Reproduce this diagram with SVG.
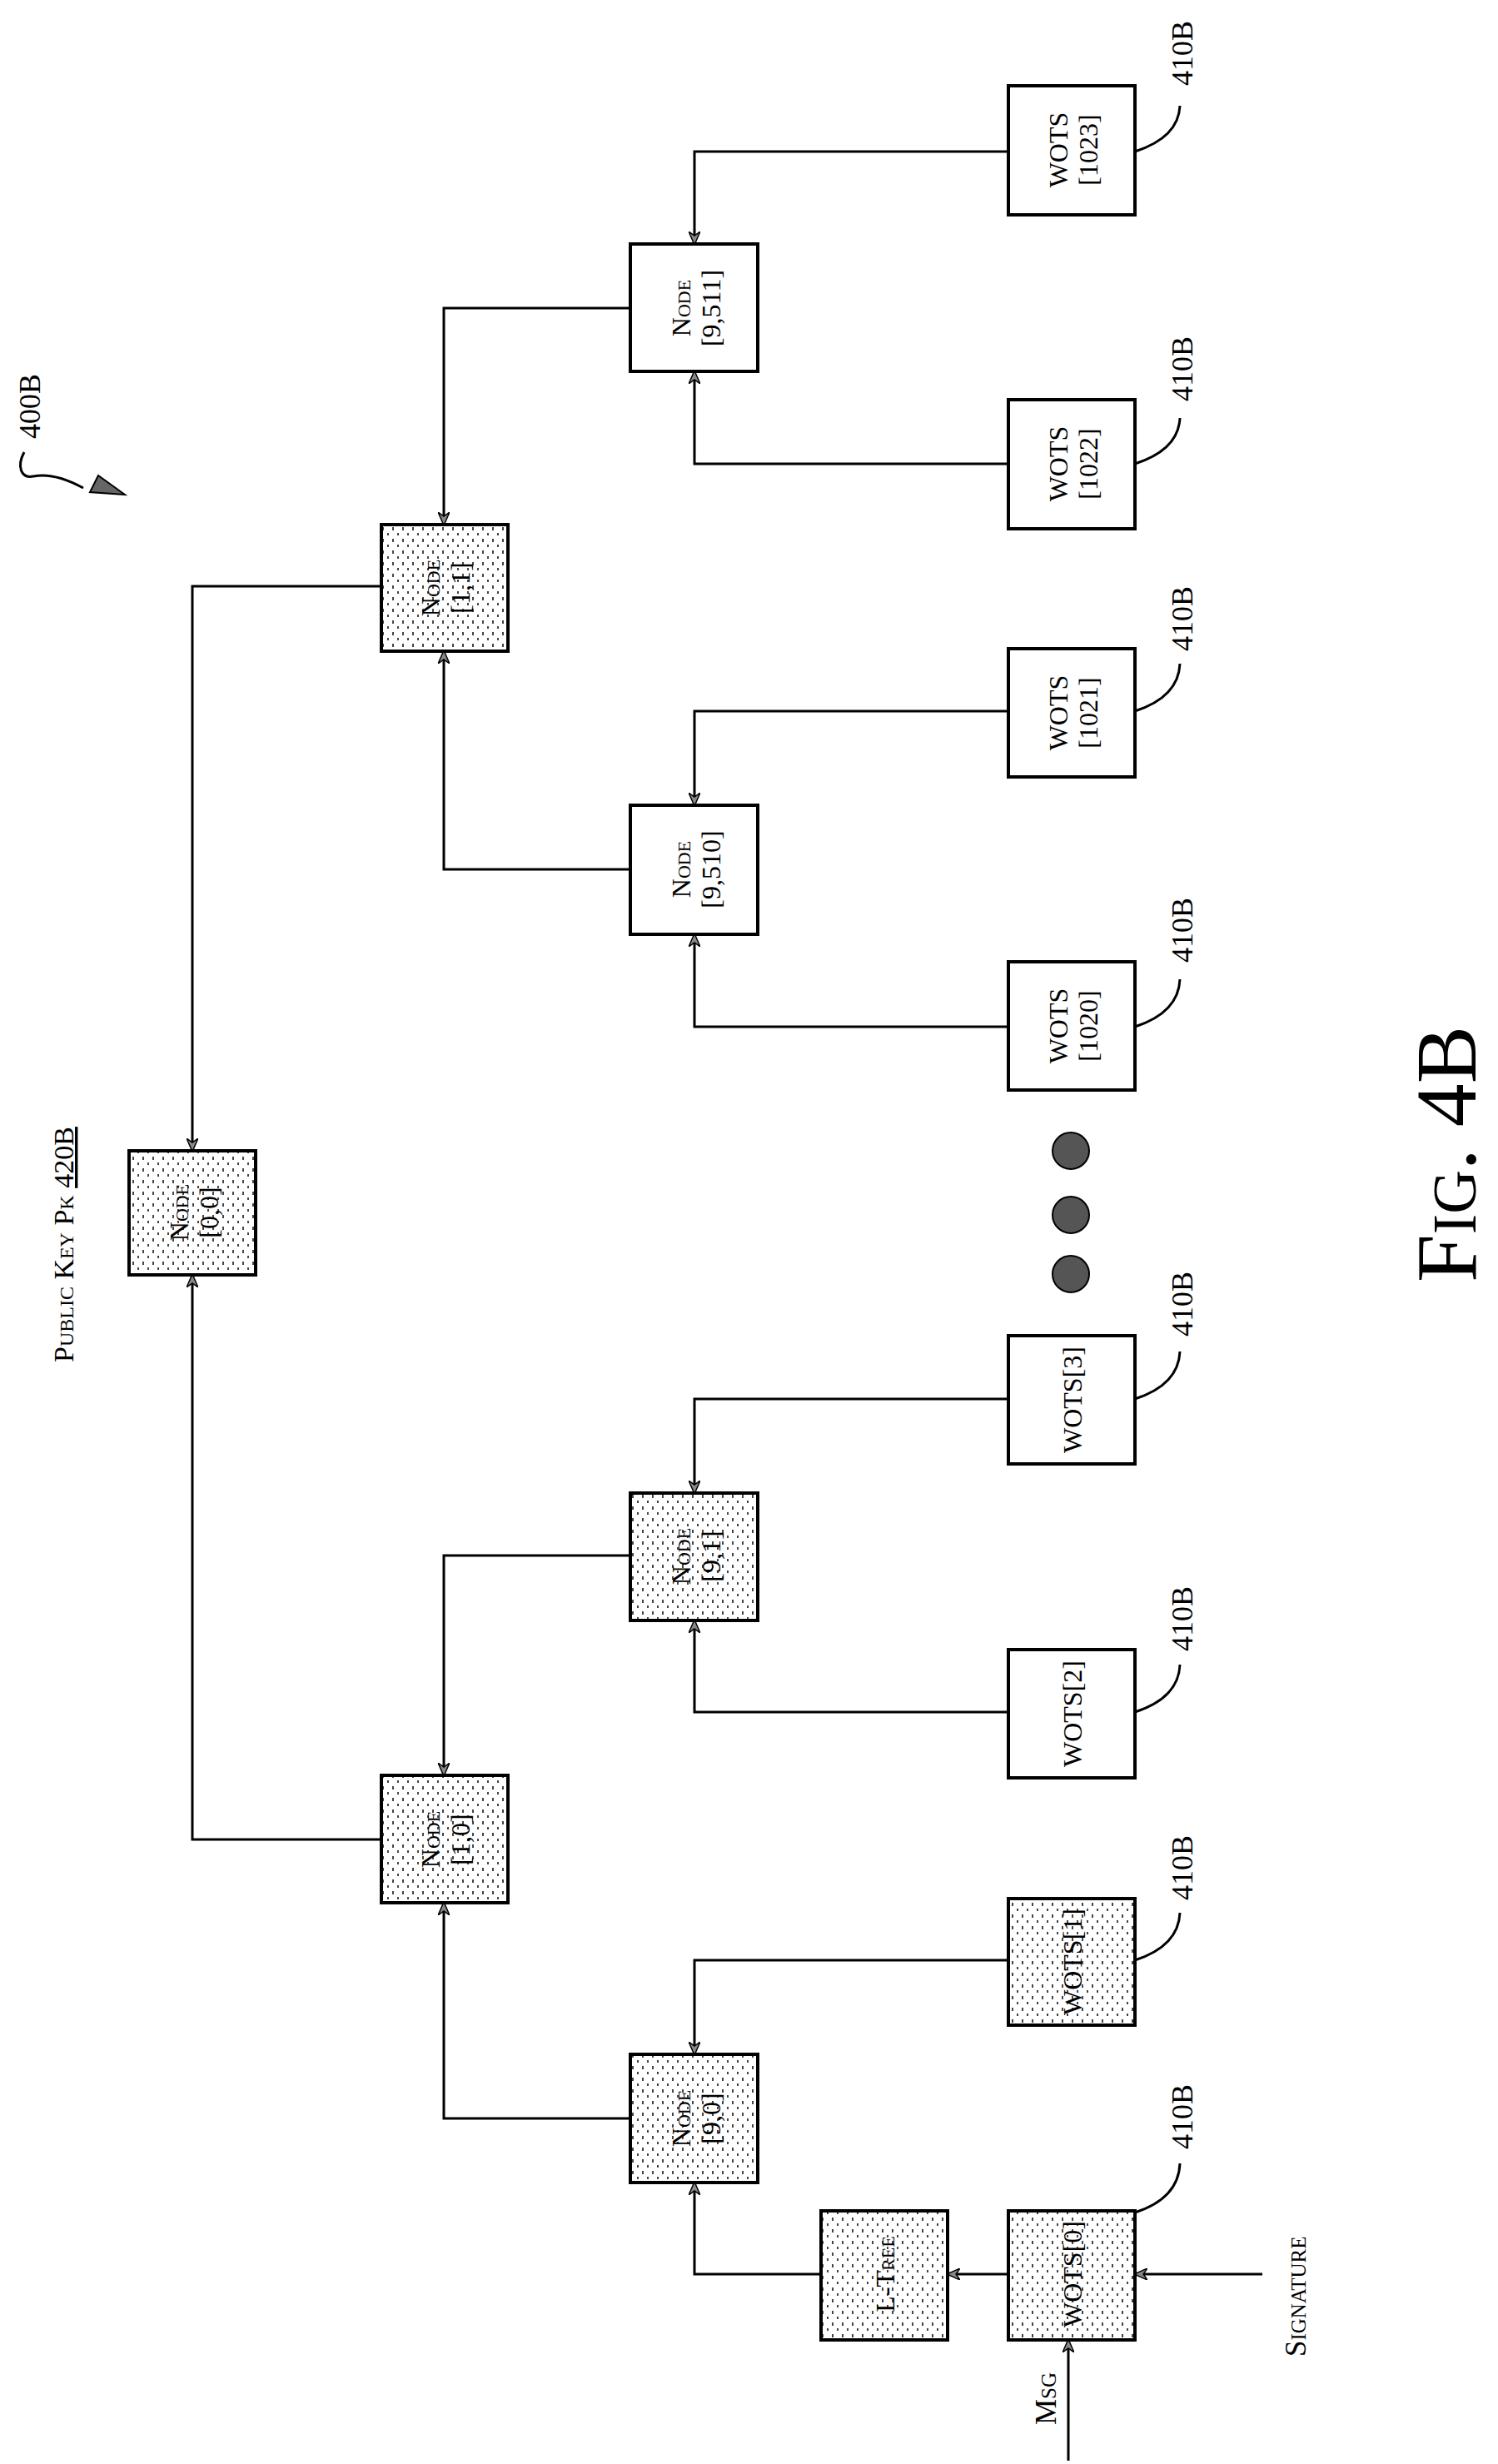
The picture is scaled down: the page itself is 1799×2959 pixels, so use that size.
<svg xmlns="http://www.w3.org/2000/svg" width="1799" height="2959" viewBox="0 0 1799 2959">
<style>
.bx{stroke:#000;stroke-width:4}
.w{fill:#fff}
.d{fill:url(#dots)}
.c{fill:none;stroke:#000;stroke-width:3}
.t{font-family:"Liberation Serif",serif;font-size:32px;fill:#000;font-variant:small-caps}
.lb{font-family:"Liberation Serif",serif;font-size:36px;fill:#000}
</style>
<defs>
<pattern id="dots" width="12" height="14" patternUnits="userSpaceOnUse">
<rect width="12" height="14" fill="#fff"/>
<rect x="3" y="3" width="2" height="4" fill="#444"/>
<rect x="9" y="10" width="2" height="3" fill="#444"/>
</pattern>
<marker id="ar" viewBox="0 0 16 14" refX="15" refY="7" markerWidth="16" markerHeight="14" markerUnits="userSpaceOnUse" orient="auto">
<path d="M0,0 L16,7 L0,14 L5,7 Z" fill="#888" stroke="#000" stroke-width="1.5"/>
</marker>
</defs>

<g id="connectors">
<path class="c" marker-end="url(#ar)" d="M1211,182 H834 V293"/>
<path class="c" marker-end="url(#ar)" d="M1211,557 H834 V446"/>
<path class="c" marker-end="url(#ar)" d="M757,370 H533 V630"/>
<path class="c" marker-end="url(#ar)" d="M1211,854 H834 V967"/>
<path class="c" marker-end="url(#ar)" d="M1211,1233 H834 V1122"/>
<path class="c" marker-end="url(#ar)" d="M757,1044 H533 V782"/>
<path class="c" marker-end="url(#ar)" d="M458,704 H231 V1382"/>
<path class="c" marker-end="url(#ar)" d="M458,2209 H231 V1531"/>
<path class="c" marker-end="url(#ar)" d="M1211,1680 H834 V1793"/>
<path class="c" marker-end="url(#ar)" d="M1211,2056 H834 V1946"/>
<path class="c" marker-end="url(#ar)" d="M757,1868 H533 V2132"/>
<path class="c" marker-end="url(#ar)" d="M1211,2354 H834 V2467"/>
<path class="c" marker-end="url(#ar)" d="M757,2544 H533 V2285"/>
<path class="c" marker-end="url(#ar)" d="M986,2731 H834 V2621"/>
<path class="c" marker-end="url(#ar)" d="M1211,2731 H1138"/>
<path class="c" marker-end="url(#ar)" d="M1516,2731 H1363"/>
<path class="c" marker-end="url(#ar)" d="M1283,2955 V2810"/>
</g>

<g id="node0_0"><rect class="bx d" x="155" y="1382" width="152" height="149"/><text class="t" transform="translate(231,1456) rotate(-90)" text-anchor="middle"><tspan x="0" y="-5">Node</tspan><tspan x="0" y="31">[0,0]</tspan></text></g>
<g id="node1_0"><rect class="bx d" x="458" y="2132" width="152" height="153"/><text class="t" transform="translate(533,2209) rotate(-90)" text-anchor="middle"><tspan x="0" y="-5">Node</tspan><tspan x="0" y="31">[1,0]</tspan></text></g>
<g id="node1_1"><rect class="bx d" x="458" y="630" width="152" height="152"/><text class="t" transform="translate(533,706) rotate(-90)" text-anchor="middle"><tspan x="0" y="-5">Node</tspan><tspan x="0" y="31">[1,1]</tspan></text></g>
<g id="node9_511"><rect class="bx w" x="757" y="293" width="153" height="153"/><text class="t" transform="translate(834,370) rotate(-90)" text-anchor="middle"><tspan x="0" y="-5">Node</tspan><tspan x="0" y="31">[9,511]</tspan></text></g>
<g id="node9_510"><rect class="bx w" x="757" y="967" width="153" height="155"/><text class="t" transform="translate(834,1044) rotate(-90)" text-anchor="middle"><tspan x="0" y="-5">Node</tspan><tspan x="0" y="31">[9,510]</tspan></text></g>
<g id="node9_1"><rect class="bx d" x="757" y="1793" width="153" height="153"/><text class="t" transform="translate(834,1869) rotate(-90)" text-anchor="middle"><tspan x="0" y="-5">Node</tspan><tspan x="0" y="31">[9,1]</tspan></text></g>
<g id="node9_0"><rect class="bx d" x="757" y="2467" width="153" height="154"/><text class="t" transform="translate(834,2544) rotate(-90)" text-anchor="middle"><tspan x="0" y="-5">Node</tspan><tspan x="0" y="31">[9,0]</tspan></text></g>
<g id="ltree"><rect class="bx d" x="986" y="2655" width="152" height="155"/><text class="t" transform="translate(1062,2731) rotate(-90)" text-anchor="middle" y="12">L-Tree</text></g>

<g id="wots1023"><rect class="bx w" x="1211" y="103" width="152" height="155"/><text class="t" transform="translate(1287,180) rotate(-90)" text-anchor="middle"><tspan x="0" y="-5">WOTS</tspan><tspan x="0" y="31">[1023]</tspan></text></g>
<g id="wots1022"><rect class="bx w" x="1211" y="480" width="152" height="155"/><text class="t" transform="translate(1287,557) rotate(-90)" text-anchor="middle"><tspan x="0" y="-5">WOTS</tspan><tspan x="0" y="31">[1022]</tspan></text></g>
<g id="wots1021"><rect class="bx w" x="1211" y="779" width="152" height="154"/><text class="t" transform="translate(1287,856) rotate(-90)" text-anchor="middle"><tspan x="0" y="-5">WOTS</tspan><tspan x="0" y="31">[1021]</tspan></text></g>
<g id="wots1020"><rect class="bx w" x="1211" y="1155" width="152" height="154"/><text class="t" transform="translate(1287,1232) rotate(-90)" text-anchor="middle"><tspan x="0" y="-5">WOTS</tspan><tspan x="0" y="31">[1020]</tspan></text></g>
<g id="wots3"><rect class="bx w" x="1211" y="1604" width="152" height="154"/><text class="t" transform="translate(1287,1681) rotate(-90)" text-anchor="middle" y="12">WOTS[3]</text></g>
<g id="wots2"><rect class="bx w" x="1211" y="1981" width="152" height="154"/><text class="t" transform="translate(1287,2058) rotate(-90)" text-anchor="middle" y="12">WOTS[2]</text></g>
<g id="wots1"><rect class="bx d" x="1211" y="2280" width="152" height="152"/><text class="t" transform="translate(1287,2356) rotate(-90)" text-anchor="middle" y="12">WOTS[1]</text></g>
<g id="wots0"><rect class="bx d" x="1211" y="2655" width="152" height="155"/><text class="t" transform="translate(1287,2731) rotate(-90)" text-anchor="middle" y="12">WOTS[0]</text></g>

<g id="ellipsis" fill="#555" stroke="#000" stroke-width="2">
<circle cx="1286" cy="1382" r="22"/><circle cx="1286" cy="1459" r="22"/><circle cx="1286" cy="1530" r="22"/>
</g>

<g id="labels410B" fill="none" stroke="#000" stroke-width="3">
<path d="M1363,182 C1400,170 1416,150 1417,127"/>
<path d="M1363,557 C1400,545 1416,525 1417,502"/>
<path d="M1363,854 C1400,842 1416,822 1417,797"/>
<path d="M1363,1233 C1400,1221 1416,1201 1417,1176"/>
<path d="M1363,1680 C1400,1668 1416,1648 1417,1623"/>
<path d="M1363,2056 C1400,2044 1416,2024 1417,1999"/>
<path d="M1363,2354 C1400,2342 1416,2322 1417,2297"/>
<path d="M1363,2657 C1400,2645 1416,2625 1417,2598"/>
</g>
<g>
<text class="lb" transform="translate(1432,103) rotate(-90)">410B</text>
<text class="lb" transform="translate(1432,482) rotate(-90)">410B</text>
<text class="lb" transform="translate(1432,782) rotate(-90)">410B</text>
<text class="lb" transform="translate(1432,1156) rotate(-90)">410B</text>
<text class="lb" transform="translate(1432,1605) rotate(-90)">410B</text>
<text class="lb" transform="translate(1432,1983) rotate(-90)">410B</text>
<text class="lb" transform="translate(1432,2282) rotate(-90)">410B</text>
<text class="lb" transform="translate(1432,2581) rotate(-90)">410B</text>
</g>

<g id="label400B">
<text class="lb" transform="translate(48,527) rotate(-90)">400B</text>
<path d="M29,543 C20,560 25,575 40,572 C60,568 80,575 100,586" fill="none" stroke="#000" stroke-width="3"/>
<path d="M150,594 L118,571 L108,591 Z" fill="#666" stroke="#000" stroke-width="2"/>
</g>

<text class="t" transform="translate(88,1636) rotate(-90)" style="font-size:34px">Public Key Pk <tspan text-decoration="underline">420B</tspan></text>
<text class="t" transform="translate(1268,2912) rotate(-90)" style="font-size:35px">Msg</text>
<text class="t" transform="translate(1568,2830) rotate(-90)" style="font-size:35px">Signature</text>
<text class="t" transform="translate(1772,1540) rotate(-90)" style="font-size:104px">Fig. 4B</text>
</svg>
